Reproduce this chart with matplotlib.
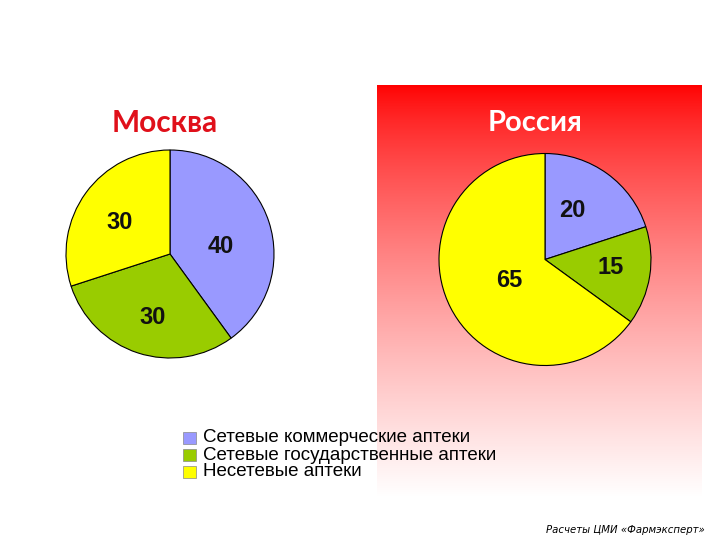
import numpy as np
import matplotlib
matplotlib.use("Agg")
import matplotlib.pyplot as plt

W, H = 720, 540

categories = ["Сетевые коммерческие аптеки",
              "Сетевые государственные аптеки",
              "Несетевые аптеки"]
moscow = [40, 30, 30]
russia = [20, 15, 65]
colors = ["#9999FF", "#99CC00", "#FFFF00"]


def px_axes(fig, x0, y0, x1, y1):
    # pixel box (top-left origin) -> figure axes
    return fig.add_axes([x0 / W, 1 - y1 / H, (x1 - x0) / W, (y1 - y0) / H])


fig = plt.figure(figsize=(7.2, 5.4), dpi=100)

# red gradient panel behind Russia
bg = px_axes(fig, 377, 85, 701, 497)
t = np.linspace(0, 1, 256) ** 0.75
grad = np.ones((256, 1, 3))
grad[:, 0, 1] = t
grad[:, 0, 2] = t
bg.imshow(grad, aspect="auto", extent=[0, 1, 0, 1], origin="upper")
bg.axis("off")


def draw_pie(cx, cy, r, values, dists):
    ax = px_axes(fig, cx - r, cy - r, cx + r, cy + r)
    wedges, _ = ax.pie(values, colors=colors, startangle=90, counterclock=False,
                       wedgeprops=dict(edgecolor="black", linewidth=0.8))
    for w, v, d in zip(wedges, values, dists):
        ang = np.deg2rad((w.theta1 + w.theta2) / 2)
        ax.text(d[0] * np.cos(ang + d[1]), d[0] * np.sin(ang + d[1]), str(v),
                ha="center", va="center", fontsize=17, fontweight="bold",
                family="Liberation Sans", color="#111111")
    ax.set_xlim(-1, 1)
    ax.set_ylim(-1, 1)
    ax.set_aspect("equal")
    ax.axis("off")
    return ax


draw_pie(170, 254, 104, moscow, [(0.49, -0.17), (0.63, 0.05), (0.57, 0.07)])
draw_pie(545, 259.5, 106, russia, [(0.53, 0.12), (0.62, 0.04), (0.39, 0.07)])

fig.text(165 / W, 1 - 123 / H, "Москва", ha="center", va="center",
         fontsize=21.5, fontweight="bold", family="Lato", color="#E0101A")
fig.text(535 / W, 1 - 123 / H, "Россия", ha="center", va="center",
         fontsize=21, fontweight="bold", family="Lato", color="white")

# legend
for i, (lab, c) in enumerate(zip(categories, colors)):
    y = 438 + i * 17
    fig.patches.append(plt.Rectangle((183 / W, 1 - (y + 6) / H), 13 / W, 12 / H,
                                     transform=fig.transFigure, facecolor=c,
                                     edgecolor="#888888", linewidth=0.5))
    fig.text(203 / W, 1 - y / H, lab, ha="left", va="center", fontsize=13.5,
             family="Liberation Sans", color="black")

fig.text(705 / W, 1 - 530 / H, "Расчеты ЦМИ «Фармэксперт»", ha="right",
         va="center", fontsize=7.3, style="italic", family="DejaVu Sans", color="black")

fig.savefig("out.png", dpi=100)
